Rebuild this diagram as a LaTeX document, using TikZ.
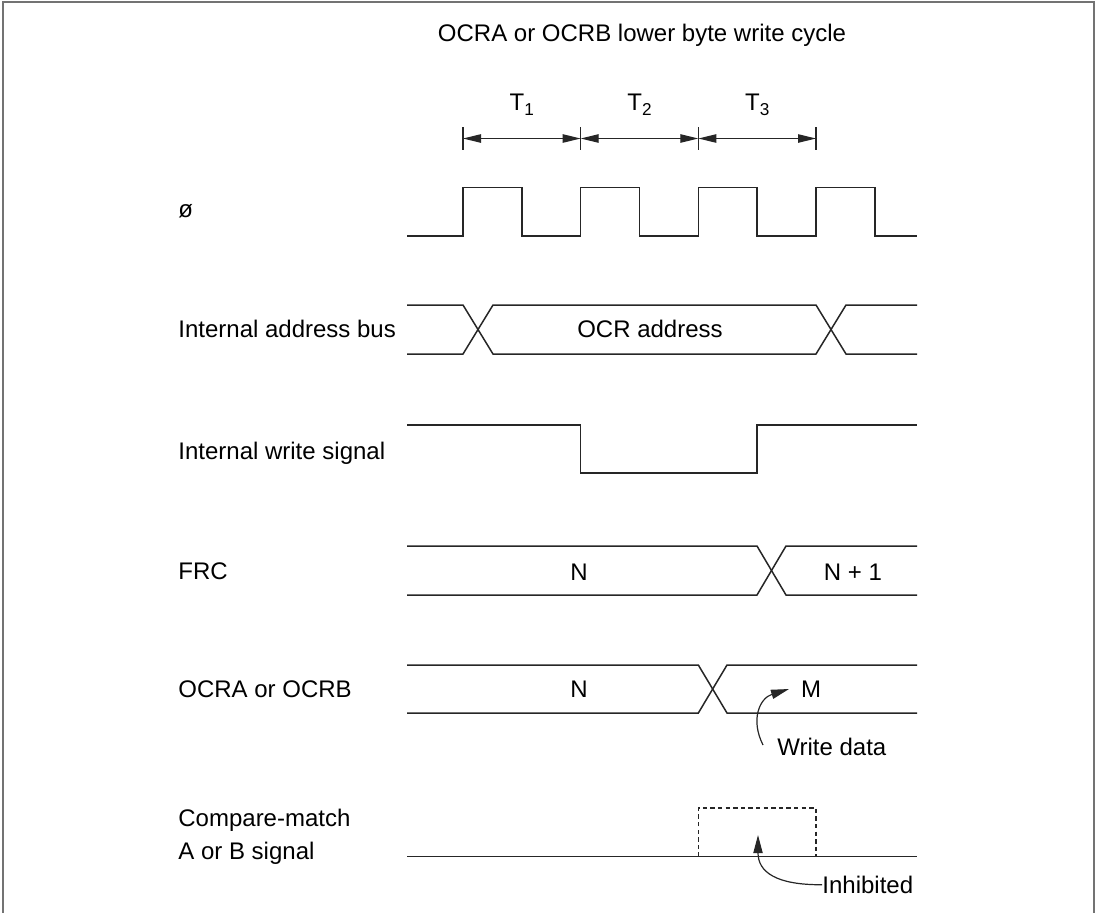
\documentclass[tikz,border=0pt]{standalone}
\usepackage{fontspec}
\setmainfont{Liberation Sans}
\usetikzlibrary{arrows.meta}

\newcommand{\Tsub}[1]{T\raisebox{-2.5pt}{\fontsize{8.6}{10}\selectfont #1}}

\tikzset{
  sig/.style={line width=0.75pt,black!85},
  lbl/.style={anchor=base west},
  val/.style={anchor=base},
  inhibit/.style={line width=0.75pt,black!85,dash pattern=on 2.2pt off 1.6pt},
  note/.style={line width=0.6pt,black!85,-{Triangle[length=9pt,width=4.6pt]}}
}

\begin{document}
\begin{tikzpicture}[x=0.5pt,y=-0.5pt,>={Triangle[length=9pt,width=4.2pt]},
    every node/.style={font=\fontsize{12}{16.3}\selectfont,inner sep=0pt}]
  \useasboundingbox (0,0) rectangle (1098,912);
  \draw[black!55,line width=1pt] (3.3,916) |- (1094.3,1.7) -- (1094.3,916);

  \node[val] (title) at (642,41.5) {OCRA or OCRB lower byte write cycle};

  \foreach \i/\x in {0/463,1/580.67,2/698.33,3/816} {
    \draw[sig,line width=0.6pt] (\x,127) -- (\x,149.5);
    \coordinate (d\i) at (\x,138.5);
  }
  \foreach \i/\j in {0/1,1/2,2/3}
    \draw[sig,line width=0.6pt,<->] (d\i) -- (d\j);
  \foreach \n/\x in {1/521.8,2/639.5,3/757.2}
    \node[val] (t\n) at (\x,110) {\Tsub{\n}};

  \node[lbl] (lphi) at (178,217.5) {ø};
  \draw[sig] (407,236) \foreach \r in {463,580.67,698.33,816} {
      -- (\r,236) -- (\r,187.5) -- (\r+58.8,187.5) -- (\r+58.8,236)} -- (917,236);

  \node[lbl] (laddr) at (178,337) {Internal address bus};
  \draw[sig] (407,305) -- (463,305) -- (493,354) -- (816,354) -- (846,305) -- (917,305);
  \draw[sig] (407,354) -- (463,354) -- (493,305) -- (816,305) -- (846,354) -- (917,354);
  \node[val] (naddr) at (650,337) {OCR address};

  \node[lbl] (lwrite) at (178,459.5) {Internal write signal};
  \draw[sig] (407,425) -- (580.67,425) -- (580.67,473) -- (757,473) -- (757,425) -- (917,425);

  \node[lbl] (lfrc) at (178,579) {FRC};
  \draw[sig] (407,546) -- (757,546) -- (786,595) -- (917,595);
  \draw[sig] (407,595) -- (757,595) -- (786,546) -- (917,546);
  \node[val] (frcn) at (579,580) {N};
  \node[val] (frcn1) at (853,580) {N + 1};

  \node[lbl] (locr) at (178,697.5) {OCRA or OCRB};
  \draw[sig] (407,665) -- (698.33,665) -- (727,713) -- (917,713);
  \draw[sig] (407,713) -- (698.33,713) -- (727,665) -- (917,665);
  \node[val] (ocrn) at (579,697.5) {N};
  \node[val] (ocrm) at (811,697.5) {M};
  \node[lbl] (wdata) at (777,755) {Write data};
  \coordinate (wtail) at (763,745);
  \coordinate (wtip) at (789,689);
  \draw[note] (wtail) .. controls (750,719) and (760,698) .. (wtip);

  \node[lbl,align=left] (lcmp) at (178,859.5) {Compare-match\\A or B signal};
  \draw[sig] (407,856.7) -- (917,856.7);
  \draw[inhibit] (698.33,856.7) |- (816,808) -- (816,856.7);
  \node[lbl] (inh) at (822,893.3) {Inhibited};
  \coordinate (itip) at (758,835);
  \draw[note] (inh.west) .. controls (776,885) and (758,872) .. (itip);
\end{tikzpicture}
\end{document}
